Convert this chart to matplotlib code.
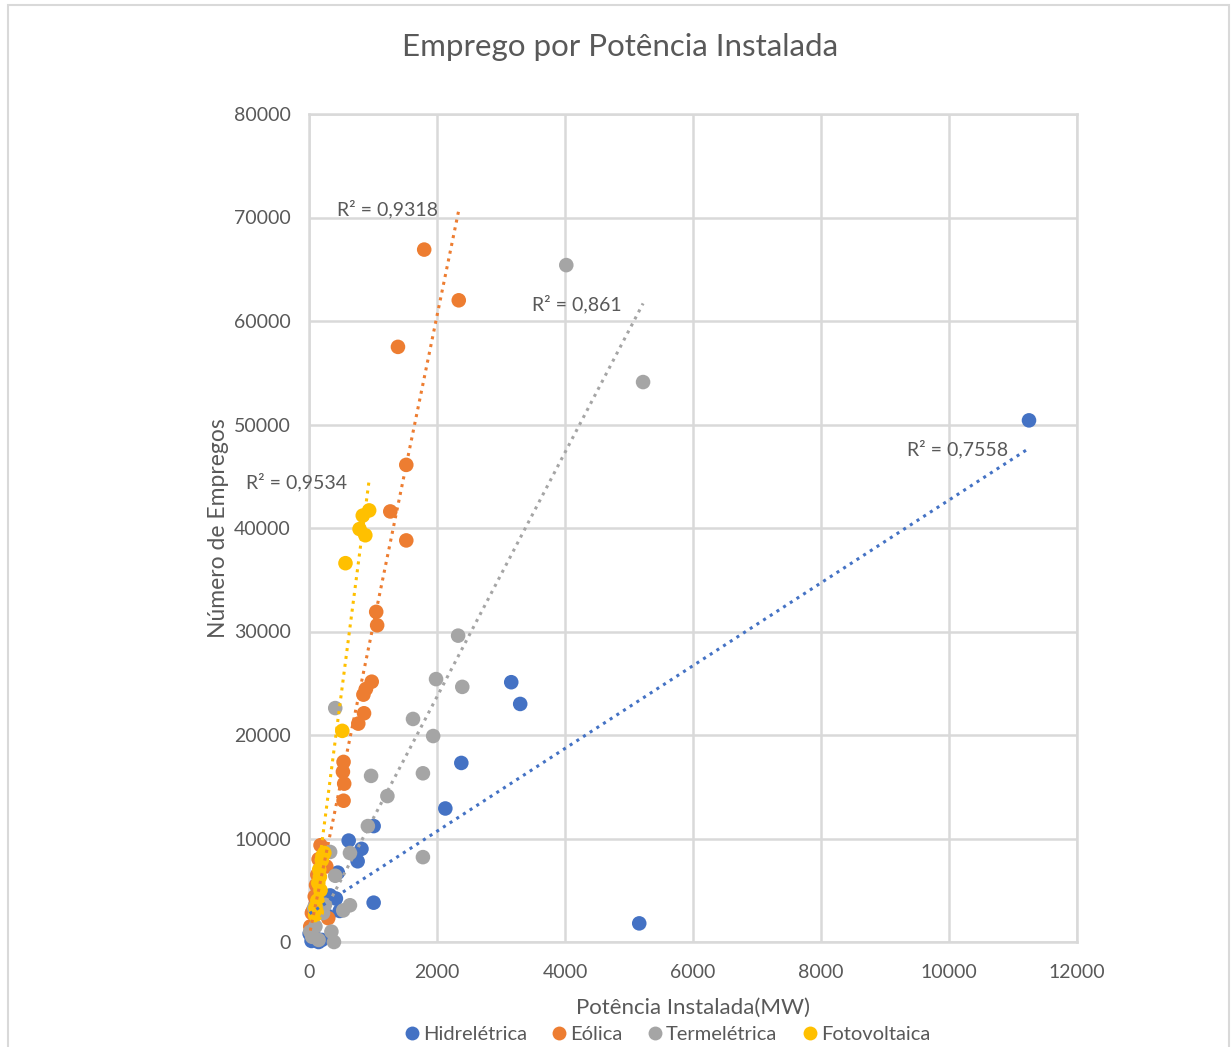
import matplotlib
matplotlib.use("Agg")
import matplotlib.pyplot as plt
from matplotlib.patches import Rectangle
from matplotlib.lines import Line2D
import numpy as np

plt.rcParams['font.family'] = ['Lato', 'DejaVu Sans']

# data (x = MW, y = jobs)
hidro_x = [11250, 3160, 3300, 2380, 2130, 5160, 1010, 620, 820, 760, 1010, 450, 420, 330, 480,
           60, 120, 40, 200, 10, 150, 300]
hidro_y = [50400, 25100, 23000, 17300, 12900, 1800, 11200, 9800, 9000, 7800, 3800, 6700, 4200, 4500, 3000,
           1200, 300, 100, 200, 800, 0, 2500]

eolica_x = [1800, 2340, 1390, 1520, 1270, 1520, 1050, 1065, 980, 890, 850, 860, 770, 540, 530, 550, 540,
            180, 270, 300, 90, 45, 150, 130, 110, 200, 100, 60, 20, 140]
eolica_y = [66900, 62000, 57500, 46100, 41600, 38800, 31900, 30600, 25150, 24450, 23900, 22100, 21100,
            17400, 16450, 15300, 13650, 9350, 7300, 2300, 4400, 2800, 8000, 6500, 5500, 7600, 3600, 3000,
            1500, 4800]

termo_x = [4020, 5220, 2330, 1985, 2395, 1625, 410, 1940, 970, 1780, 1225, 920, 1780, 640, 330, 410, 640,
           535, 350, 390, 220, 100, 50, 150, 20, 80, 250]
termo_y = [65400, 54100, 29600, 25400, 24650, 21550, 22600, 19900, 16050, 16300, 14100, 11200, 8200, 8600,
           8700, 6400, 3550, 3050, 1000, 0, 2800, 1500, 500, 200, 1000, 3300, 3600]

foto_x = [940, 840, 790, 880, 570, 520, 240, 200, 170, 145, 120, 95, 210, 160, 130, 100, 180]
foto_y = [41700, 41200, 39900, 39300, 36600, 20400, 8600, 7900, 6300, 5700, 2900, 2600, 8300, 7000, 4000,
          3300, 5000]

# linear trendlines as shown in the chart (slope, intercept) and their R² labels
trend_coef = {'Hidrelétrica': (4.0, 2700), 'Eólica': (30.0, 500),
              'Termelétrica': (11.8, 100), 'Fotovoltaica': (47.5, 0)}
r2_text = {'Hidrelétrica': 'R² = 0,7558', 'Eólica': 'R² = 0,9318',
           'Termelétrica': 'R² = 0,861', 'Fotovoltaica': 'R² = 0,9534'}
r2_pos = {'Hidrelétrica': (10140, 47630), 'Eólica': (1234, 70820),
          'Termelétrica': (4190, 61640), 'Fotovoltaica': (-190, 44440)}

series = [
    ('Hidrelétrica', hidro_x, hidro_y, '#4472C4'),
    ('Eólica', eolica_x, eolica_y, '#ED7D31'),
    ('Termelétrica', termo_x, termo_y, '#A5A5A5'),
    ('Fotovoltaica', foto_x, foto_y, '#FFC000'),
]

txt = '#595959'
grid = '#D9D9D9'

fig = plt.figure(figsize=(12.32, 10.47), dpi=100)
ax = fig.add_axes([309 / 1232, 105 / 1047, 768 / 1232, 828 / 1047])

# chart border
fig.patches.append(Rectangle((8 / 1232, -0.05), 1221 / 1232, 1.05 - 5 / 1047, transform=fig.transFigure,
                             fill=False, edgecolor='#D9D9D9', linewidth=1.5))

for i, (name, xs, ys, col) in enumerate(series):
    ax.scatter(xs, ys, s=110, color=col, edgecolors='none', zorder=3 + i, clip_on=False)

for i, (name, xs, ys, col) in enumerate(series):
    m, b = trend_coef[name]
    xx = np.array([min(xs), max(xs)])
    ax.plot(xx, m * xx + b, color=col, linestyle=(0, (1, 1.6)), linewidth=2.2, zorder=8)
    tx, ty = r2_pos[name]
    ax.text(tx, ty, r2_text[name], color=txt, fontsize=14, ha='center', va='center', zorder=9)

ax.set_xlim(0, 12000)
ax.set_ylim(0, 80000)
ax.set_xticks(np.arange(0, 12001, 2000))
ax.set_yticks(np.arange(0, 80001, 10000))
ax.grid(True, color=grid, linewidth=1.8, zorder=0)
ax.set_axisbelow(True)
for sp in ax.spines.values():
    sp.set_color(grid)
    sp.set_linewidth(1.8)
ax.tick_params(length=0, labelsize=14, labelcolor=txt)
ax.tick_params(axis='x', pad=16)
ax.tick_params(axis='y', pad=13)

ax.set_xlabel('Potência Instalada(MW)', fontsize=16, color=txt, labelpad=12)
ax.set_ylabel('Número de Empregos', fontsize=16.5, color=txt, labelpad=4)
fig.text(620 / 1232, 1 - 47 / 1047, 'Emprego por Potência Instalada', fontsize=22.5, color=txt,
         ha='center', va='center')

handles = [Line2D([], [], marker='o', linestyle='none', markersize=10, markerfacecolor=c,
                  markeredgecolor='none', label=n) for n, _, _, c in series]
fig.legend(handles=handles, loc='center', bbox_to_anchor=(666 / 1232, 1 - 1034 / 1047), ncol=4,
           frameon=False, fontsize=14.5, labelcolor=txt, handletextpad=0.05, columnspacing=1.1,
           handlelength=1.0)

fig.savefig('out.png', dpi=100, facecolor='white')
